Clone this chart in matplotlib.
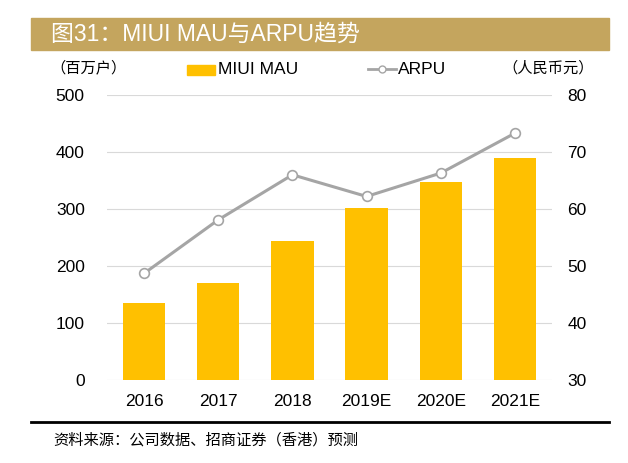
import matplotlib.pyplot as plt
import numpy as np
from matplotlib.patches import Rectangle
from matplotlib.lines import Line2D

plt.rcParams['font.family'] = ['Liberation Sans', 'Noto Sans CJK SC', 'DejaVu Sans']

###### DATA ######

years = ['2016', '2017', '2018', '2019E', '2020E', '2021E']
mau = [135, 171, 243, 301, 347, 390]
arpu = [48.7, 58.1, 66.0, 62.2, 66.3, 73.3]

left_ticks = [0, 100, 200, 300, 400, 500]
right_ticks = [30, 40, 50, 60, 70, 80]

bar_color = '#FFC000'
line_color = '#A5A5A5'
gold = '#C4A55E'

###### FIGURE ######

fig = plt.figure(figsize=(6.28, 4.63), dpi=100)
W, H = 628, 463

def fx(px):
    return px / W

def fy(py):
    return 1 - py / H

# title bar
fig.patches.append(Rectangle((fx(31), fy(50)), fx(609) - fx(31), fy(18) - fy(50),
                             transform=fig.transFigure, color=gold, zorder=0))
fig.text(fx(51), fy(34), '图31：MIUI MAU与ARPU趋势', color='white', fontsize=16.5,
         va='center', ha='left')

# bottom rule + source
fig.add_artist(Line2D([fx(31), fx(609)], [fy(422), fy(422)], color='black', lw=2,
                      transform=fig.transFigure))
fig.text(fx(53), fy(440), '资料来源：公司数据、招商证券（香港）预测', fontsize=11,
         va='center', ha='left', family=['Noto Sans CJK SC'], style='italic')

ax = fig.add_axes([fx(107), fy(380), fx(552) - fx(107), fy(95) - fy(380)])
x = np.arange(len(years))
ax.bar(x, mau, width=0.57, color=bar_color, zorder=2)
ax.set_xlim(-0.5, len(years) - 0.5)
ax.set_ylim(0, 500)
ax.set_yticks(left_ticks)
ax.set_xticks(x)
ax.set_xticklabels(years)
ax.grid(axis='y', color='#D9D9D9', lw=0.8, zorder=0)
for s in ax.spines.values():
    s.set_visible(False)
ax.tick_params(length=0, labelsize=12.5)
ax.tick_params(axis='y', pad=16)
ax.tick_params(axis='x', pad=10)

ax2 = ax.twinx()
ax2.plot(x, arpu, color=line_color, lw=2.2, marker='o', markersize=7,
         markerfacecolor='white', markeredgecolor=line_color, markeredgewidth=1.2, zorder=3)
ax2.set_ylim(30, 80)
ax2.set_yticks(right_ticks)
for s in ax2.spines.values():
    s.set_visible(False)
ax2.tick_params(length=0, labelsize=12.5, pad=11)

# unit labels
fig.text(fx(50), fy(68), '（百万户）', fontsize=11, va='center', ha='left',
         family=['Noto Sans CJK SC'])
fig.text(fx(594), fy(68), '（人民币元）', fontsize=11, va='center', ha='right',
         family=['Noto Sans CJK SC'])

# legend
fig.patches.append(Rectangle((fx(187), fy(75)), fx(28), fy(65) - fy(75),
                             transform=fig.transFigure, color=bar_color))
fig.text(fx(218), fy(70), 'MIUI MAU', fontsize=12.5, va='center', ha='left')
fig.add_artist(Line2D([fx(368), fx(396)], [fy(69), fy(69)], color=line_color, lw=2,
                      transform=fig.transFigure))
fig.add_artist(Line2D([fx(382)], [fy(69)], color=line_color, marker='o', markersize=5,
                      markerfacecolor='white', markeredgecolor=line_color,
                      transform=fig.transFigure))
fig.text(fx(398), fy(70), 'ARPU', fontsize=12.5, va='center', ha='left')

fig.savefig('out.png', dpi=100)
